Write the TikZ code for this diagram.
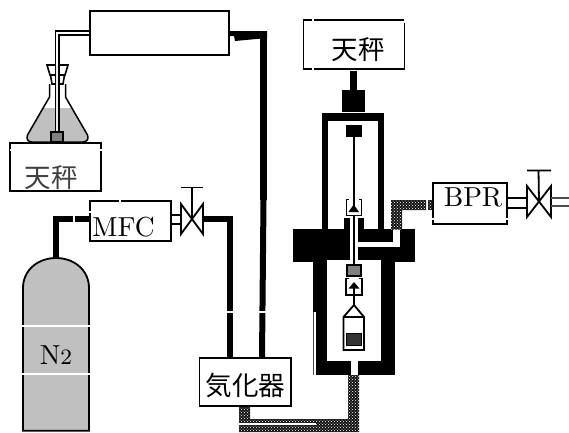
\documentclass[tikz,border=0pt]{standalone}
\usepackage{fontspec}
\newfontfamily\jpfont{Noto Sans CJK JP}
\usetikzlibrary{patterns}
\definecolor{cylgray}{HTML}{C0C0C0}
\tikzset{
  box/.style={draw=black,line width=1.6pt,fill=white,inner sep=0pt},
  lab/.style={inner sep=0pt,scale=2.75,font=\fontsize{10}{12}\selectfont},
  jplab/.style={inner sep=0pt,font=\fontsize{26.5}{30}\selectfont\jpfont},
  pipe/.style={draw=black,line width=6pt},
  thin pipe/.style={draw=black,line width=1.6pt},
  dither/.style={fill=black!92,postaction={pattern=crosshatch dots,pattern color=white}},
  cut/.style={draw=white,line width=1.3pt},
  valve/.style={draw=black,line width=1.8pt,fill=white,line join=miter},
  hook/.style={draw=black,line width=1.6pt},
}
\begin{document}
\begin{tikzpicture}[x=1pt,y=-1pt]
\useasboundingbox (0,0) rectangle (569,432);
\fill[white] (0,0) rectangle (569,432);

% ---------- boxes
\node[box,minimum width=139pt,minimum height=44pt] (cond) at (159.7,33) {};
\node[box,minimum width=91pt,minimum height=48pt] (bal1) at (55.5,167) {};
\node[jplab,text=black!75] (bal1t) at (51,177.5) {天秤};
\node[box,minimum width=81pt,minimum height=40pt] (mfc) at (130.5,221) {};
\node[lab] (mfct) at (123.5,227) {MFC};
\node[box,minimum width=91.5pt,minimum height=48pt] (vap) at (245.3,382) {};
\node[jplab] (vapt) at (245.5,385) {気化器};
\node[box,minimum width=101pt,minimum height=49pt] (bal2) at (354,44.5) {};
\node[jplab] (bal2t) at (358,50) {天秤};
\node[box,minimum width=74pt,minimum height=41pt] (bpr) at (470,203.5) {};
\node[lab] (bprt) at (473,197) {BPR};

% ---------- flask
\fill[white] (49.5,84) -- (49.5,97) -- (27.5,135) .. controls (26,139) and (28,142) .. (32,142)
  -- (83,142) .. controls (87,142) and (89,139) .. (87.5,135) -- (65.5,97) -- (65.5,84) -- cycle;
\fill[cylgray] (42.7,108) -- (27.5,135) .. controls (26,139) and (28,142) .. (32,142)
  -- (83,142) .. controls (87,142) and (89,139) .. (87.5,135) -- (72.3,108) -- cycle;
\draw[black,line width=1.5pt] (49.5,84) -- (49.5,97) -- (27.5,135) .. controls (26,139) and (28,142) .. (32,142)
  -- (83,142) .. controls (87,142) and (89,139) .. (87.5,135) -- (65.5,97) -- (65.5,84);
\draw[black,line width=1.6pt,fill=white] (47,65) -- (68,65) -- (65,75) -- (50,75) -- cycle;
\draw[black,line width=1.6pt,fill=white] (50.5,75) -- (64.5,75) -- (63,84) -- (52,84) -- cycle;
\coordinate (bend) at (57.3,33);
\draw[black,line width=5.6pt,line join=miter] (cond.west|-bend) -- (bend) -- (57.3,132);
\draw[white,line width=2pt] (cond.west|-bend) -- (bend) -- (57.3,65);
\draw[cylgray!30!white,line width=2pt] (57.3,65) -- (57.3,132);
\node[draw=black,line width=1.6pt,fill=black!50,minimum width=12pt,minimum height=10pt,inner sep=0pt] (stir) at (57,137) {};
\draw[cut] (9.5,150) -- (11,150) (100,150) -- (102,150);

% ---------- condenser outlet and line to vaporizer
\fill[black] (cond.east|-0,31) -- (267,31) -- (267,38) -- (235,41) -- (234,36) -- (cond.east|-0,36) -- cycle;
\draw[black,line width=6.5pt] (263.5,31) -- (263.5,200);
\draw[pipe] (263.5,200) -- (262,358);
\draw[cut] (258,312) -- (267,312);

% ---------- cylinder
\node[inner sep=0pt,minimum size=0pt] (cyltop) at (56,258) {};
\draw[black,line width=1.8pt,fill=cylgray] (23,430.8) -- (23,288) .. controls (23,270) and (38,258) .. (56,258)
  .. controls (74,258) and (89,270) .. (89,288) -- (89,430.8) -- cycle;
\draw[white,line width=1.2pt] (22,326) -- (90,326) (22,374) -- (90,374);
\node[lab,anchor=base] (n2) at (56,364) {N{\fontsize{8}{8}\selectfont 2}};
\draw[black,line width=6pt,line join=miter] (cyltop) -- (56,219) -- (mfc.west|-0,219);
\draw[white,line width=1.5pt] (74,214) -- (74,224);
\draw[cut] (120,200) -- (120,202) (89,212) -- (91,212);

% ---------- MFC valve
\coordinate (v1) at (192,219);
\draw[thin pipe] (mfc.east|-0,215) -- (181,215) (mfc.east|-0,224) -- (181,224);
\draw[black,line width=6pt,line join=miter] (203,219) -- (229.5,219) -- (229.5,358);
\draw[valve] (181,204) -- (203,234) -- (203,204) -- (181,234) -- cycle;
\draw[black,line width=1.8pt] (v1) -- (192,187) (181,187.5) -- (203,187.5);
\draw[cut] (225,312) -- (234,312);

% ---------- vaporizer to vessel (dithered line)
\path[dither] (239,407) -- (250,407) -- (250,419) -- (348,419) -- (348,373) -- (359,373) -- (359,432) -- (239,432) -- cycle;
\draw[white,line width=2pt] (239,424) -- (316,424);

% ---------- vessel top
\fill[black] (350,71) rectangle (357,90);
\fill[black] (342,90) rectangle (365,112);

% upper chamber
\fill[black] (322,113) rectangle (384,232);
\fill[white] (328,121) rectangle (378,232);

% flange and lower body
\fill[black] (293,229) rectangle (415,261.5);
\fill[black] (313,250) rectangle (395,375);
\fill[white] (327,260) rectangle (381,361);
\fill[white] (350.5,361) rectangle (357.5,375);

% inner tube
\fill[black] (344,218) rectangle (350,232);
\fill[black] (358,218) rectangle (363.5,232);
\fill[white] (350,217) rectangle (358,262);
\fill[white] (358,242) rectangle (400,247);
\fill[white] (393,229) rectangle (400,242);
\draw[white,line width=1.8pt] (315,312) -- (315,375);
\draw[black!70,line width=.6pt] (313.3,312) -- (313.3,375);

% dithered outlet to BPR
\path[dither] (391,200) -- (426,200) -- (426,210) -- (402,210) -- (402,229.5) -- (391,229.5) -- cycle;
\path[dither] (427.5,200) rectangle (bpr.west|-0,210);

% hanger
\fill[black] (346,125) rectangle (362,137);
\draw[black,line width=2.4pt] (353.7,137) -- (353.7,208);
\draw[hook] (349,199.5) -- (346.5,199.5) -- (346.5,215.5) -- (361.5,215.5) -- (361.5,199.5) -- (359,199.5);
\fill[black] (353.7,204.5) -- (359,212) -- (348.5,212) -- cycle;
\draw[black,line width=2.4pt] (353.7,215) -- (353.7,266);
\node[draw=black,line width=1.6pt,fill=black!50,minimum width=14pt,minimum height=11pt,inner sep=0pt] (weight) at (354,270.5) {};
\draw[hook] (349,278.5) -- (346,278.5) -- (346,295) -- (362,295) -- (362,278.5) -- (359,278.5);
\fill[black] (354,282) -- (359.5,288.5) -- (348.5,288.5) -- cycle;
\draw[black,line width=2pt] (354,288) -- (354,305);
\draw[black,line width=1.8pt,fill=white] (354,305) -- (364,317) -- (364,350) -- (343.5,350) -- (343.5,317) -- cycle;
\draw[black,line width=1.6pt] (343.5,317) -- (364,317);
\node[draw=black,line width=1pt,fill=black!80,minimum width=15pt,minimum height=12pt,inner sep=0pt] (sample) at (353.5,339) {};

% ---------- BPR valve
\coordinate (v2) at (539,201.5);
\draw[thin pipe] (bpr.east|-0,198) -- (527,198) (bpr.east|-0,208) -- (527,208);
\draw[valve] (527,186) -- (551,217) -- (551,186) -- (527,217) -- cycle;
\draw[black,line width=1.8pt] (v2) -- (538.5,170) (527,170.5) -- (551,170.5);
\draw[black!70,line width=1.6pt] (551,198) -- (569,198) (551,206) -- (569,206);
\draw[cut] (433,218) -- (433,220) (507,218) -- (507,220);
\draw[cut] (313,19) -- (313,21) (313,68) -- (313,70) (404.5,19) -- (404.5,23);
\end{tikzpicture}
\end{document}
